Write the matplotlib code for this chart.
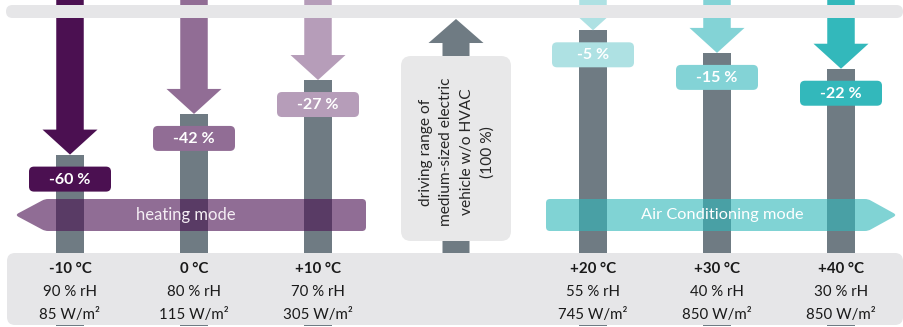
import matplotlib
matplotlib.use("Agg")
import matplotlib.pyplot as plt
from matplotlib.path import Path
from matplotlib.patches import PathPatch
from matplotlib.transforms import Affine2D
import numpy as np

# ---------------- data ----------------
temperatures = ["-10 °C", "0 °C", "+10 °C", "+20 °C", "+30 °C", "+40 °C"]
humidity = ["90 % rH", "80 % rH", "70 % rH", "55 % rH", "40 % rH", "30 % rH"]
irradiance = ["85 W/m²", "115 W/m²", "305 W/m²", "745 W/m²", "850 W/m²", "850 W/m²"]
range_change = [-60, -42, -27, -5, -15, -22]          # % change of driving range
reference_range = 100                                   # % (w/o HVAC)
reference_label = "driving range of\nmedium-sized electric\nvehicle w/o HVAC\n(100 %)"
mode_labels = ["heating mode", "Air Conditioning mode"]

# ---------------- style ----------------
plt.rcParams["font.family"] = ["Lato", "DejaVu Sans"]
W, H = 904, 327
col_x = [70, 194, 318, 593, 717, 841]
ref_x = 456
arrow_colors = ["#4b1051", "#916d95", "#b69db9", "#aee1e3", "#83d3d6", "#33b8bb"]
bar_gray = "#6f7b83"
light = "#e6e6e8"

fig = plt.figure(figsize=(W / 100, H / 100), dpi=100)
ax = fig.add_axes([0, 0, 1, 1])
ax.set_xlim(0, W)
ax.set_ylim(-36.28, 108.41)
ax.axis("off")
T = Affine2D().scale(1 / W, -1 / H).translate(0, 1) + fig.transFigure


def py(p):
    """pixel-from-top of a data value"""
    return H - ax.transData.transform((0, p))[1]


def rounded_path(pts, r):
    n = len(pts)
    if np.isscalar(r):
        r = [r] * n
    verts, codes = [], []
    for i in range(n):
        p = np.array(pts[i], float)
        a = np.array(pts[i - 1], float)
        b = np.array(pts[(i + 1) % n], float)
        da, db = a - p, b - p
        la, lb = np.hypot(*da), np.hypot(*db)
        r1, r2 = min(r[i], la / 2), min(r[i], lb / 2)
        A = p + da / la * r1
        B = p + db / lb * r2
        verts.append(A)
        codes.append(Path.MOVETO if i == 0 else Path.LINETO)
        verts += [p, B]
        codes += [Path.CURVE3, Path.CURVE3]
    verts.append(verts[0])
    codes.append(Path.CLOSEPOLY)
    return Path(verts, codes)


def rrect(x0, y0, x1, y1, r, **kw):
    patch = PathPatch(rounded_path([(x0, y0), (x1, y0), (x1, y1), (x0, y1)], r),
                      transform=T, lw=0, **kw)
    fig.add_artist(patch)
    return patch


def poly(pts, r=0, **kw):
    patch = PathPatch(rounded_path(pts, r if r else 0.01), transform=T, lw=0, **kw)
    fig.add_artist(patch)
    return patch


# gray columns (remaining range)
remaining = [reference_range + v for v in range_change]
base = -36
ax.bar(col_x, [r - base for r in remaining], bottom=base, width=27.5,
       color=bar_gray, zorder=2)

# downward arrows + label boxes
for x, r, v, c in zip(col_x, remaining, range_change, arrow_colors):
    tip = py(r)
    hb = tip - 25
    sw, hw = 13.75, 27.5
    poly([(x - sw, -5), (x + sw, -5), (x + sw, hb), (x + hw, hb), (x, tip),
          (x - hw, hb), (x - sw, hb)], facecolor=c, zorder=1)
    top = tip + 12
    rrect(x - 41, top, x + 41, top + 25, 5, facecolor=c, zorder=3)
    fig.text(x / W, 1 - (top + 13) / H, f"{v} %", color="white", fontsize=11.5,
             fontweight="bold", ha="center", va="center", zorder=4)

# reference (100 %) up arrow
tip = py(reference_range)
hb = tip + 24
poly([(ref_x - 13.5, 253), (ref_x - 13.5, hb), (ref_x - 27.5, hb), (ref_x, tip),
      (ref_x + 27.5, hb), (ref_x + 13.5, hb), (ref_x + 13.5, 253)],
     facecolor=bar_gray, zorder=2)
rrect(401, 56, 511, 241, 10, facecolor="#e8e8e9", zorder=3)
fig.text((ref_x + 1) / W, 1 - 152 / H, reference_label, rotation=90, ha="center",
         va="center", multialignment="center", fontsize=11.2, linespacing=1.6,
         color="#262626", zorder=4)

# top band and bottom box
rrect(6, 5, 903, 18, 6.5, facecolor=light, zorder=5)
rrect(7, 253, 903, 325, 8, facecolor=light, zorder=5)

# mode arrows
poly([(45, 199), (366, 199), (366, 231), (45, 231), (15, 215)], [3, 4, 4, 3, 4],
     facecolor="#4d1454", alpha=0.62, zorder=6)
fig.text(186 / W, 1 - 215 / H, mode_labels[0], color="#f4eef4", fontsize=12,
         ha="center", va="center", zorder=7)
poly([(546, 199), (868, 199), (897, 215), (868, 231), (546, 231)], [4, 3, 4, 3, 4],
     facecolor="#33b8bb", alpha=0.62, zorder=6)
fig.text(722 / W, 1 - 215 / H, mode_labels[1], color="white", fontsize=11.8,
         ha="center", va="center", zorder=7)

# bottom condition labels
for x, t, h, w in zip(col_x, temperatures, humidity, irradiance):
    fig.text(x / W, 1 - 269 / H, t, ha="center", va="center", fontsize=10.8,
             fontweight="bold", color="#1a1a1a", zorder=7)
    fig.text(x / W, 1 - 292 / H, h, ha="center", va="center", fontsize=10.8,
             color="#1a1a1a", zorder=7)
    fig.text(x / W, 1 - 315 / H, w, ha="center", va="center", fontsize=10.8,
             color="#1a1a1a", zorder=7)

fig.savefig("out.png", dpi=100)
